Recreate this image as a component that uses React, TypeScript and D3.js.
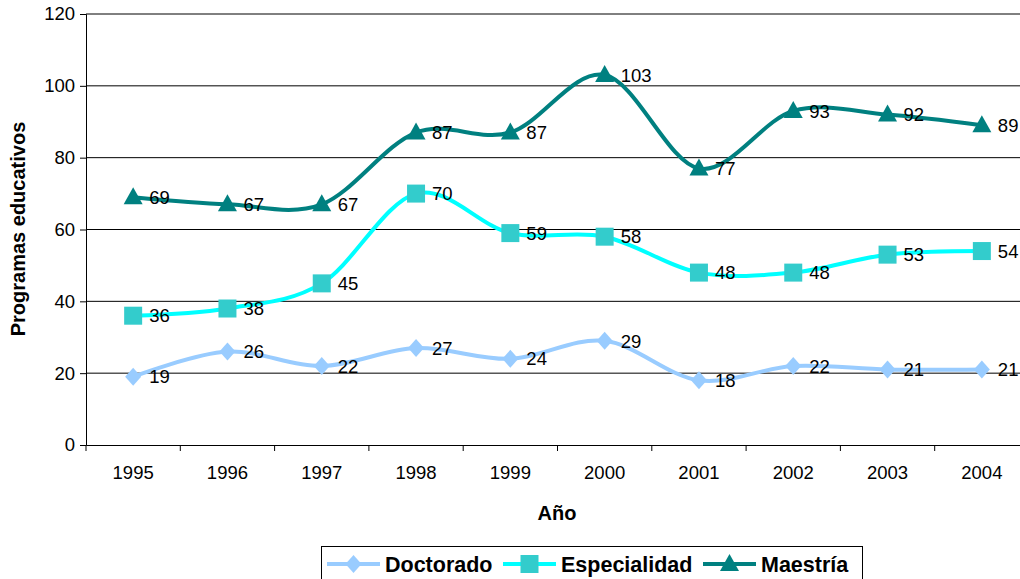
import { useEffect, useRef } from 'react';
import * as d3 from 'd3';

const years = ['1995', '1996', '1997', '1998', '1999', '2000', '2001', '2002', '2003', '2004'];
const doctorado = [19, 26, 22, 27, 24, 29, 18, 22, 21, 21];
const especialidad = [36, 38, 45, 70, 59, 58, 48, 48, 53, 54];
const maestria = [69, 67, 67, 87, 87, 103, 77, 93, 92, 89];
const yTicks = [0, 20, 40, 60, 80, 100, 120];

const series = [
  { name: 'Doctorado', values: doctorado, line: '#99CCFF', fill: '#99CCFF', marker: 'diamond' },
  { name: 'Especialidad', values: especialidad, line: '#00FFFF', fill: '#33CCCC', marker: 'square' },
  { name: 'Maestría', values: maestria, line: '#008080', fill: '#008080', marker: 'triangle' },
];

const W = 1020;
const H = 579;
const font = 'Arial, "Liberation Sans", sans-serif';

function markerPath(kind: string) {
  if (kind === 'diamond') return 'M0,-9L8,0L0,9L-8,0Z';
  if (kind === 'square') return 'M-9,-9H9V9H-9Z';
  return 'M0,-10L9.5,7L-9.5,7Z';
}

const App = () => {
  const ref = useRef<SVGSVGElement>(null);

  useEffect(() => {
    const svg = d3.select(ref.current);
    svg.selectAll('*').remove();

    const left = 86, top = 14, bottom = 445;
    const step = 94.3;
    const right = left + step * years.length;

    const x = d3.scaleBand().domain(years).range([left, right]);
    const y = d3.scaleLinear().domain([0, 120]).range([bottom, top]);
    const cx = (d: string) => (x(d) as number) + x.bandwidth() / 2;

    // gridlines
    svg.append('g')
      .selectAll('line')
      .data(yTicks.filter(t => t > 0))
      .join('line')
      .attr('x1', left).attr('x2', right)
      .attr('y1', d => y(d)).attr('y2', d => y(d))
      .attr('stroke', '#000').attr('stroke-width', 1);

    // y axis
    const yAxis = svg.append('g')
      .attr('transform', `translate(${left},0)`)
      .call(d3.axisLeft(y).tickValues(yTicks).tickSize(6).tickPadding(5));
    yAxis.select('.domain').attr('stroke', '#000');
    yAxis.selectAll('text').attr('font-size', 18.5).attr('font-family', font).attr('fill', '#000');

    // x axis
    const xAxis = svg.append('g')
      .attr('transform', `translate(0,${bottom})`)
      .call(d3.axisBottom(x).tickSize(0).tickPadding(21));
    xAxis.select('.domain').attr('stroke', '#000');
    xAxis.selectAll('text').attr('font-size', 18.5).attr('font-family', font).attr('fill', '#000');
    xAxis.append('g')
      .selectAll('line')
      .data(d3.range(years.length + 1))
      .join('line')
      .attr('x1', i => left + i * x.step()).attr('x2', i => left + i * x.step())
      .attr('y1', 0).attr('y2', 6)
      .attr('stroke', '#000');

    // series
    const line = d3.line<number>()
      .x((_, i) => cx(years[i]))
      .y(d => y(d))
      .curve(d3.curveCatmullRom.alpha(0));

    series.forEach(s => {
      svg.append('path')
        .datum(s.values)
        .attr('fill', 'none')
        .attr('stroke', s.line)
        .attr('stroke-width', 4)
        .attr('d', line);
    });

    series.forEach(s => {
      svg.append('g')
        .selectAll('path')
        .data(s.values)
        .join('path')
        .attr('transform', (d, i) => `translate(${cx(years[i])},${y(d)})`)
        .attr('d', markerPath(s.marker))
        .attr('fill', s.fill);
      svg.append('g')
        .selectAll('text')
        .data(s.values)
        .join('text')
        .attr('x', (_, i) => cx(years[i]) + 16)
        .attr('y', d => y(d))
        .attr('dy', '0.36em')
        .attr('font-size', 18.5)
        .attr('font-family', font)
        .text(d => d);
    });

    // axis titles
    svg.append('text')
      .attr('transform', `translate(25,229) rotate(-90)`)
      .attr('text-anchor', 'middle')
      .attr('font-size', 20).attr('font-weight', 'bold').attr('font-family', font)
      .text('Programas educativos');
    svg.append('text')
      .attr('x', 557).attr('y', 520)
      .attr('text-anchor', 'middle')
      .attr('font-size', 20).attr('font-weight', 'bold').attr('font-family', font)
      .text('Año');

    // legend
    const lg = svg.append('g');
    lg.append('rect')
      .attr('x', 321.5).attr('y', 546.5).attr('width', 541).attr('height', 40)
      .attr('fill', '#fff').attr('stroke', '#000');
    const legendX = [327, 503, 703];
    series.forEach((s, i) => {
      const g = lg.append('g').attr('transform', `translate(${legendX[i]},564)`);
      g.append('line').attr('x1', 0).attr('x2', 53).attr('stroke', s.line).attr('stroke-width', 4);
      g.append('path').attr('transform', 'translate(26.5,0)').attr('d', markerPath(s.marker)).attr('fill', s.fill);
      g.append('text')
        .attr('x', 58).attr('dy', '0.36em')
        .attr('font-size', 21.5).attr('font-weight', 'bold').attr('font-family', font)
        .text(s.name);
    });
  }, []);

  return (
    <svg ref={ref} width={W} height={H} style={{ position: 'absolute', left: 0, top: 0, background: '#fff' }} />
  );
};

export default App;
